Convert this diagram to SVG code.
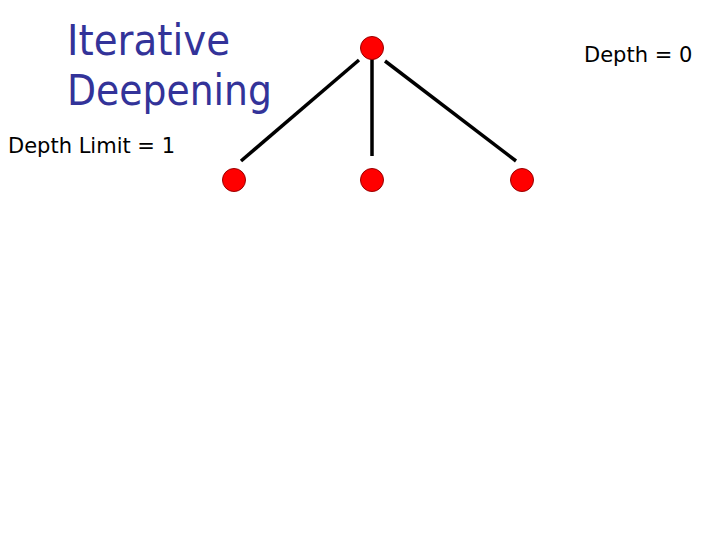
<svg xmlns="http://www.w3.org/2000/svg" width="720" height="540" viewBox="0 0 720 540">
<style>
.title{font-family:"DejaVu Sans","Liberation Sans",sans-serif;font-size:42px;fill:#333399}
.lbl{font-family:"DejaVu Sans","Liberation Sans",sans-serif;font-size:21px;fill:#000}
.node{fill:#ff0000;stroke:#990000;stroke-width:1}
.edge{stroke:#000;stroke-width:3.5;fill:none}
</style>
<rect width="720" height="540" fill="#fff"/>
<text class="title" x="67" y="55" textLength="163" lengthAdjust="spacingAndGlyphs">Iterative</text>
<text class="title" x="67" y="105" textLength="205" lengthAdjust="spacingAndGlyphs">Deepening</text>
<text class="lbl" x="8" y="153">Depth Limit = 1</text>
<text class="lbl" x="584" y="62">Depth = 0</text>
<g id="connectors">
<line class="edge" x1="359" y1="60" x2="241" y2="161"/>
<line class="edge" x1="372" y1="59" x2="372" y2="156"/>
<line class="edge" x1="385" y1="61" x2="516" y2="161"/>
</g>
<g id="root"><circle class="node" cx="372" cy="48" r="11.5"/></g>
<g id="leaf1"><circle class="node" cx="234" cy="180" r="11.5"/></g>
<g id="leaf2"><circle class="node" cx="372" cy="180" r="11.5"/></g>
<g id="leaf3"><circle class="node" cx="522" cy="180" r="11.5"/></g>
</svg>
